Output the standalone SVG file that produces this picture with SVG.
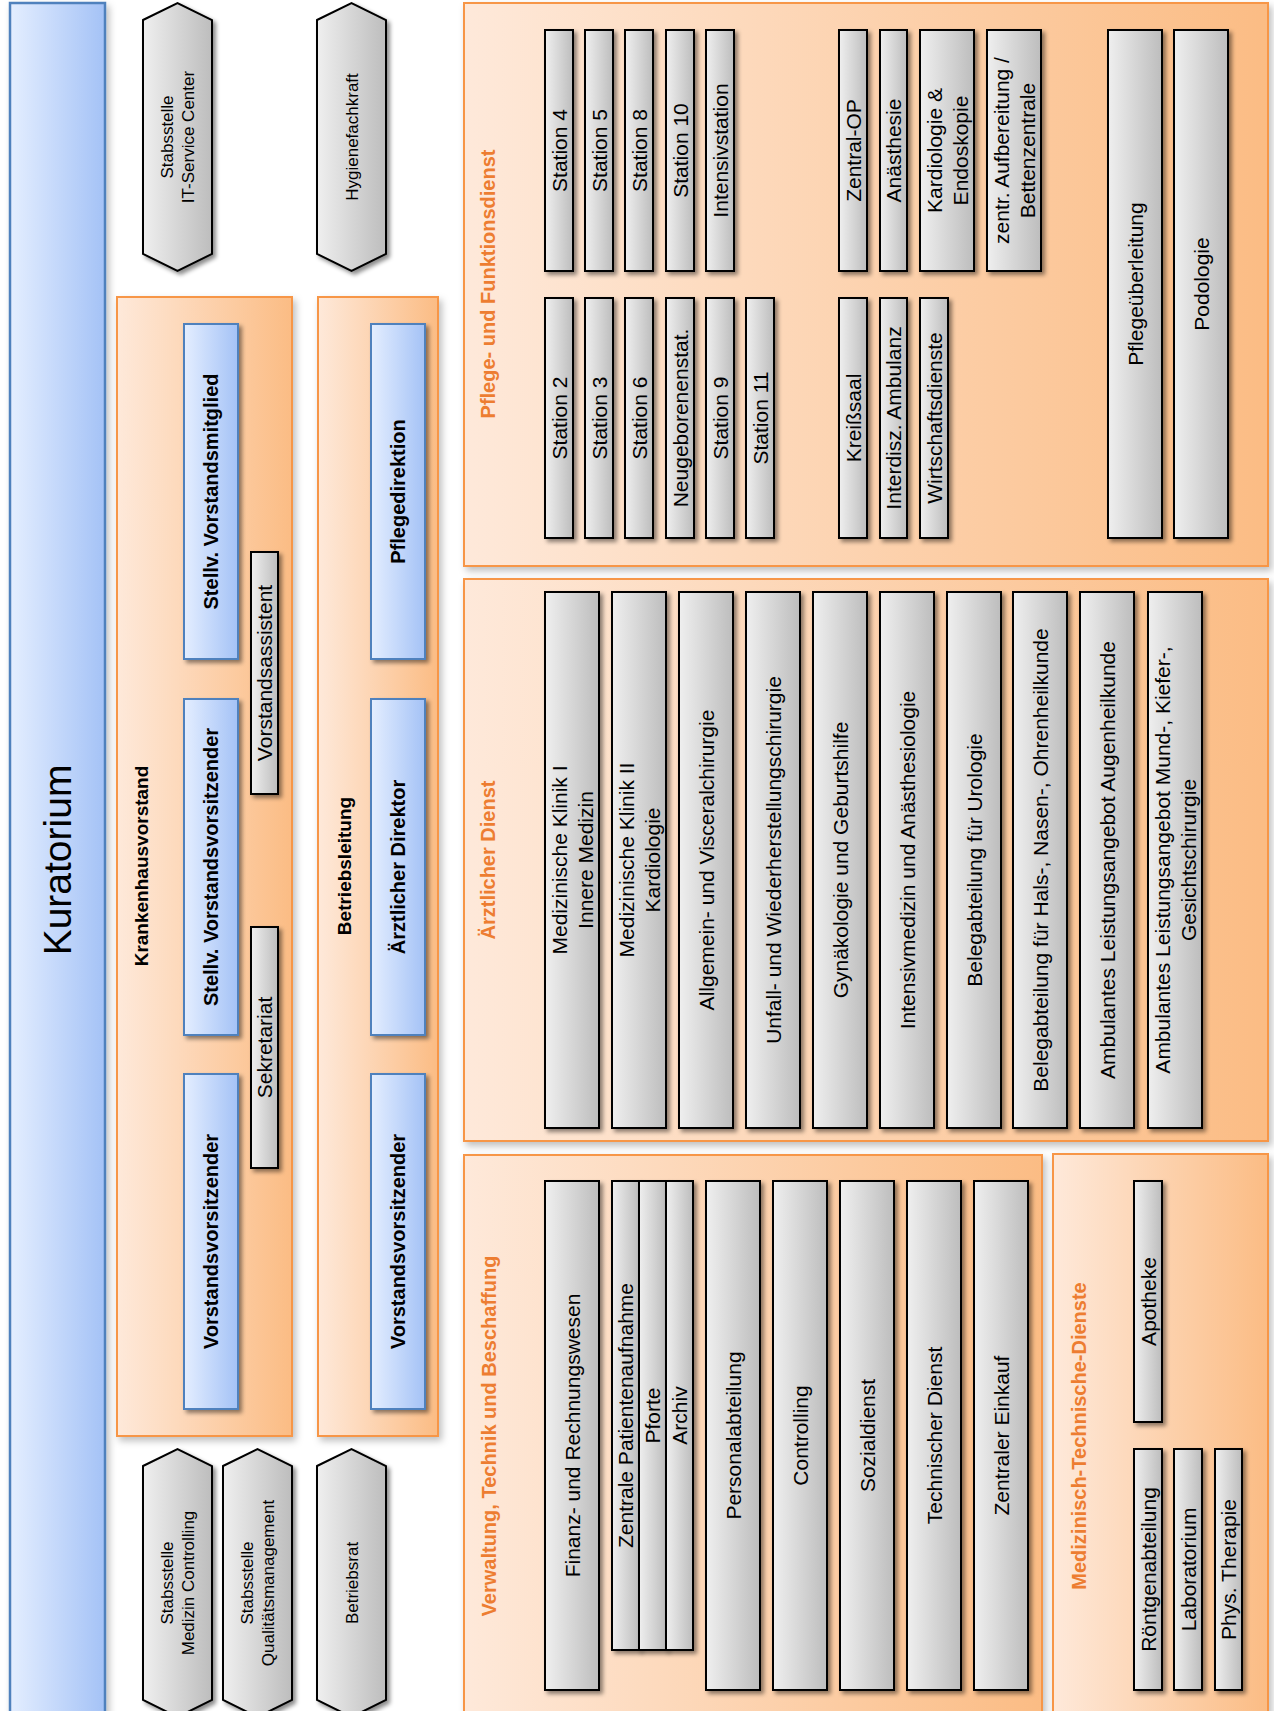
<svg xmlns="http://www.w3.org/2000/svg" width="1274" height="1711" viewBox="0 0 1274 1711">
<defs>
<linearGradient id="gGray" x1="0" y1="0" x2="1" y2="0"><stop offset="0" stop-color="#efefef"/><stop offset="1" stop-color="#bdbdbd"/></linearGradient>
<linearGradient id="gBlue" x1="0" y1="0" x2="1" y2="0"><stop offset="0" stop-color="#e4eeff"/><stop offset="1" stop-color="#a4c2f6"/></linearGradient>
<linearGradient id="gOrange" x1="0" y1="0" x2="1" y2="0"><stop offset="0" stop-color="#fee9da"/><stop offset="1" stop-color="#fbbc84"/></linearGradient>
<filter id="sh" filterUnits="userSpaceOnUse" x="0" y="0" width="1274" height="1711"><feDropShadow dx="3" dy="3" stdDeviation="2.2" flood-color="#000" flood-opacity="0.45"/></filter>
<filter id="shO" filterUnits="userSpaceOnUse" x="0" y="0" width="1274" height="1711"><feDropShadow dx="3" dy="4" stdDeviation="3.5" flood-color="#000" flood-opacity="0.25"/></filter>
<style>
text{font-family:"Liberation Sans",Arial,sans-serif;text-anchor:middle;fill:#000}
.lbl{font-size:21px}
.hx{font-size:17px}
.bl{font-size:20px;font-weight:bold}
.hd{font-size:19px;font-weight:bold}
.sec{font-size:20px;font-weight:bold;fill:#ed7d31}
.kur{font-size:39px}
.g{fill:url(#gGray);stroke:#000;stroke-width:2;filter:url(#sh)}
.b{fill:url(#gBlue);stroke:#4f81bd;stroke-width:2;filter:url(#sh)}
.o{fill:url(#gOrange);stroke:#f79646;stroke-width:2;filter:url(#shO)}
</style>
</defs>
<rect width="1274" height="1711" fill="#fff"/>

<g id="kuratorium">
<rect x="10" y="3" width="95" height="1720" fill="url(#gBlue)" stroke="#4f81bd" stroke-width="2.5" filter="url(#shO)"/>
<text class="kur" transform="translate(71,860) rotate(-90)">Kuratorium</text>
</g>

<g id="stab-it"><polygon class="g" points="143,20 177.5,3 212,20 212,254 177.5,271 143,254"/>
<text class="hx" transform="translate(173,137) rotate(-90)"><tspan x="0" y="0">Stabsstelle</tspan><tspan x="0" y="21">IT-Service Center</tspan></text></g>
<g id="hygiene"><polygon class="g" points="317,20 351.5,3 386,20 386,254 351.5,271 317,254"/>
<text class="hx" transform="translate(357.5,137) rotate(-90)">Hygienefachkraft</text></g>
<g id="stab-medcon"><polygon class="g" points="143,1466 177.5,1449 212,1466 212,1700 177.5,1717 143,1700"/>
<text class="hx" transform="translate(173,1583) rotate(-90)"><tspan x="0" y="0">Stabsstelle</tspan><tspan x="0" y="21">Medizin Controlling</tspan></text></g>
<g id="stab-qm"><polygon class="g" points="223,1466 257.5,1449 292,1466 292,1700 257.5,1717 223,1700"/>
<text class="hx" transform="translate(253,1583) rotate(-90)"><tspan x="0" y="0">Stabsstelle</tspan><tspan x="0" y="21">Qualitätsmanagement</tspan></text></g>
<g id="betriebsrat"><polygon class="g" points="317,1466 351.5,1449 386,1466 386,1700 351.5,1717 317,1700"/>
<text class="hx" transform="translate(357.5,1583) rotate(-90)">Betriebsrat</text></g>

<g id="krankenhausvorstand">
<rect class="o" x="117" y="297" width="175" height="1139"/>
<text class="hd" transform="translate(148,866) rotate(-90)">Krankenhausvorstand</text>
</g>
<g id="kv-stellv-mitglied"><rect class="b" x="184" y="324" width="54" height="335"/><text class="bl" transform="translate(218,491.5) rotate(-90)">Stellv. Vorstandsmitglied</text></g>
<g id="kv-stellv-vorsitz"><rect class="b" x="184" y="699" width="54" height="336"/><text class="bl" transform="translate(218,867) rotate(-90)">Stellv. Vorstandsvorsitzender</text></g>
<g id="kv-vorsitz"><rect class="b" x="184" y="1074" width="54" height="335"/><text class="bl" transform="translate(218,1241.5) rotate(-90)">Vorstandsvorsitzender</text></g>
<g id="vorstandsassistent"><rect class="g" x="251" y="552" width="27" height="242"/><text class="lbl" transform="translate(272,673) rotate(-90)">Vorstandsassistent</text></g>
<g id="sekretariat"><rect class="g" x="251" y="927" width="27" height="241"/><text class="lbl" transform="translate(272,1047.5) rotate(-90)">Sekretariat</text></g>

<g id="betriebsleitung">
<rect class="o" x="318" y="297" width="120" height="1139"/>
<text class="hd" transform="translate(351,866) rotate(-90)">Betriebsleitung</text>
</g>
<g id="bl-pflegedirektion"><rect class="b" x="371" y="324" width="54" height="335"/><text class="bl" transform="translate(405,491.5) rotate(-90)">Pflegedirektion</text></g>
<g id="bl-aerztl-direktor"><rect class="b" x="371" y="699" width="54" height="336"/><text class="bl" transform="translate(405,867) rotate(-90)">Ärztlicher Direktor</text></g>
<g id="bl-vorsitz"><rect class="b" x="371" y="1074" width="54" height="335"/><text class="bl" transform="translate(405,1241.5) rotate(-90)">Vorstandsvorsitzender</text></g>

<g id="pflege">
<rect class="o" x="464" y="3" width="804" height="563"/>
<text class="sec" transform="translate(495,284) rotate(-90)">Pflege- und Funktionsdienst</text>
</g>
<g id="station4"><rect class="g" x="545" y="30" width="28" height="241"/><text class="lbl" transform="translate(566.5,150.5) rotate(-90)">Station 4</text></g>
<g id="station5"><rect class="g" x="585" y="30" width="28" height="241"/><text class="lbl" transform="translate(606.5,150.5) rotate(-90)">Station 5</text></g>
<g id="station8"><rect class="g" x="625" y="30" width="28" height="241"/><text class="lbl" transform="translate(646.5,150.5) rotate(-90)">Station 8</text></g>
<g id="station10"><rect class="g" x="666" y="30" width="28" height="241"/><text class="lbl" transform="translate(687.5,150.5) rotate(-90)">Station 10</text></g>
<g id="intensivstation"><rect class="g" x="706" y="30" width="28" height="241"/><text class="lbl" transform="translate(727.5,150.5) rotate(-90)">Intensivstation</text></g>
<g id="zentral-op"><rect class="g" x="839" y="30" width="28" height="241"/><text class="lbl" transform="translate(860.5,150.5) rotate(-90)">Zentral-OP</text></g>
<g id="anaesthesie"><rect class="g" x="880" y="30" width="27" height="241"/><text class="lbl" transform="translate(901,150.5) rotate(-90)">Anästhesie</text></g>
<g id="kardio-endo"><rect class="g" x="920" y="30" width="54" height="241"/><text class="lbl" transform="translate(941.5,150.5) rotate(-90)"><tspan x="0" y="0">Kardiologie &amp;</tspan><tspan x="0" y="26">Endoskopie</tspan></text></g>
<g id="aufbereitung"><rect class="g" x="987" y="30" width="54" height="241"/><text class="lbl" transform="translate(1008.5,150.5) rotate(-90)"><tspan x="0" y="0">zentr. Aufbereitung /</tspan><tspan x="0" y="26">Bettenzentrale</tspan></text></g>
<g id="station2"><rect class="g" x="545" y="298" width="28" height="240"/><text class="lbl" transform="translate(566.5,418) rotate(-90)">Station 2</text></g>
<g id="station3"><rect class="g" x="585" y="298" width="28" height="240"/><text class="lbl" transform="translate(606.5,418) rotate(-90)">Station 3</text></g>
<g id="station6"><rect class="g" x="625" y="298" width="28" height="240"/><text class="lbl" transform="translate(646.5,418) rotate(-90)">Station 6</text></g>
<g id="neugeborenenstat"><rect class="g" x="666" y="298" width="28" height="240"/><text class="lbl" transform="translate(687.5,418) rotate(-90)">Neugeborenenstat.</text></g>
<g id="station9"><rect class="g" x="706" y="298" width="28" height="240"/><text class="lbl" transform="translate(727.5,418) rotate(-90)">Station 9</text></g>
<g id="station11"><rect class="g" x="746" y="298" width="28" height="240"/><text class="lbl" transform="translate(767.5,418) rotate(-90)">Station 11</text></g>
<g id="kreisssaal"><rect class="g" x="839" y="298" width="28" height="240"/><text class="lbl" transform="translate(860.5,418) rotate(-90)">Kreißsaal</text></g>
<g id="interdisz-ambulanz"><rect class="g" x="880" y="298" width="27" height="240"/><text class="lbl" transform="translate(901,418) rotate(-90)">Interdisz. Ambulanz</text></g>
<g id="wirtschaftsdienste"><rect class="g" x="920" y="298" width="28" height="240"/><text class="lbl" transform="translate(941.5,418) rotate(-90)">Wirtschaftsdienste</text></g>
<g id="pflegeueberleitung"><rect class="g" x="1108" y="30" width="54" height="508"/><text class="lbl" transform="translate(1142.5,284) rotate(-90)">Pflegeüberleitung</text></g>
<g id="podologie"><rect class="g" x="1174" y="30" width="54" height="508"/><text class="lbl" transform="translate(1208.5,284) rotate(-90)">Podologie</text></g>

<g id="aerztlicher-dienst">
<rect class="o" x="464" y="579" width="804" height="562"/>
<text class="sec" transform="translate(495,860) rotate(-90)">Ärztlicher Dienst</text>
</g>
<g id="med-klinik-1"><rect class="g" x="545" y="592" width="54" height="536"/><text class="lbl" transform="translate(566.5,860) rotate(-90)"><tspan x="0" y="0">Medizinische Klinik I</tspan><tspan x="0" y="26">Innere Medizin</tspan></text></g>
<g id="med-klinik-2"><rect class="g" x="612" y="592" width="54" height="536"/><text class="lbl" transform="translate(633.5,860) rotate(-90)"><tspan x="0" y="0">Medizinische Klinik II</tspan><tspan x="0" y="26">Kardiologie</tspan></text></g>
<g id="allgemeinchirurgie"><rect class="g" x="679" y="592" width="54" height="536"/><text class="lbl" transform="translate(713.5,860) rotate(-90)">Allgemein- und Visceralchirurgie</text></g>
<g id="unfallchirurgie"><rect class="g" x="746" y="592" width="54" height="536"/><text class="lbl" transform="translate(780.5,860) rotate(-90)">Unfall- und Wiederherstellungschirurgie</text></g>
<g id="gynaekologie"><rect class="g" x="813" y="592" width="54" height="536"/><text class="lbl" transform="translate(847.5,860) rotate(-90)">Gynäkologie und Geburtshilfe</text></g>
<g id="intensivmedizin"><rect class="g" x="880" y="592" width="54" height="536"/><text class="lbl" transform="translate(914.5,860) rotate(-90)">Intensivmedizin und Anästhesiologie</text></g>
<g id="urologie"><rect class="g" x="947" y="592" width="54" height="536"/><text class="lbl" transform="translate(981.5,860) rotate(-90)">Belegabteilung für Urologie</text></g>
<g id="hno"><rect class="g" x="1013" y="592" width="54" height="536"/><text class="lbl" transform="translate(1047.5,860) rotate(-90)">Belegabteilung für Hals-, Nasen-, Ohrenheilkunde</text></g>
<g id="augenheilkunde"><rect class="g" x="1080" y="592" width="54" height="536"/><text class="lbl" transform="translate(1114.5,860) rotate(-90)">Ambulantes Leistungsangebot Augenheilkunde</text></g>
<g id="mkg"><rect class="g" x="1148" y="592" width="54" height="536"/><text class="lbl" transform="translate(1169.5,860) rotate(-90)"><tspan x="0" y="0">Ambulantes Leistungsangebot Mund-, Kiefer-,</tspan><tspan x="0" y="26">Gesichtschirurgie</tspan></text></g>

<g id="verwaltung">
<rect class="o" x="464" y="1155" width="578" height="570"/>
<text class="sec" transform="translate(496,1436) rotate(-90)">Verwaltung, Technik und Beschaffung</text>
</g>
<g id="finanz"><rect class="g" x="545" y="1181" width="54" height="509"/><text class="lbl" transform="translate(579.5,1435.5) rotate(-90)">Finanz- und Rechnungswesen</text></g>
<g id="patientenaufnahme"><rect class="g" x="612" y="1181" width="27" height="469"/><text class="lbl" transform="translate(633,1415.5) rotate(-90)">Zentrale Patientenaufnahme</text></g>
<g id="pforte"><rect class="g" x="639" y="1181" width="27" height="469"/><text class="lbl" transform="translate(660,1415.5) rotate(-90)">Pforte</text></g>
<g id="archiv"><rect class="g" x="666" y="1181" width="27" height="469"/><text class="lbl" transform="translate(687,1415.5) rotate(-90)">Archiv</text></g>
<g id="personal"><rect class="g" x="706" y="1181" width="54" height="509"/><text class="lbl" transform="translate(740.5,1435.5) rotate(-90)">Personalabteilung</text></g>
<g id="controlling"><rect class="g" x="773" y="1181" width="54" height="509"/><text class="lbl" transform="translate(807.5,1435.5) rotate(-90)">Controlling</text></g>
<g id="sozialdienst"><rect class="g" x="840" y="1181" width="54" height="509"/><text class="lbl" transform="translate(874.5,1435.5) rotate(-90)">Sozialdienst</text></g>
<g id="technischer-dienst"><rect class="g" x="907" y="1181" width="54" height="509"/><text class="lbl" transform="translate(941.5,1435.5) rotate(-90)">Technischer Dienst</text></g>
<g id="einkauf"><rect class="g" x="974" y="1181" width="54" height="509"/><text class="lbl" transform="translate(1008.5,1435.5) rotate(-90)">Zentraler Einkauf</text></g>

<g id="mtd">
<rect class="o" x="1053" y="1154" width="215" height="571"/>
<text class="sec" transform="translate(1086,1436) rotate(-90)">Medizinisch-Technische-Dienste</text>
</g>
<g id="apotheke"><rect class="g" x="1134" y="1181" width="28" height="241"/><text class="lbl" transform="translate(1155.5,1301.5) rotate(-90)">Apotheke</text></g>
<g id="roentgen"><rect class="g" x="1134" y="1449" width="28" height="241"/><text class="lbl" transform="translate(1155.5,1569.5) rotate(-90)">Röntgenabteilung</text></g>
<g id="labor"><rect class="g" x="1174" y="1449" width="28" height="241"/><text class="lbl" transform="translate(1195.5,1569.5) rotate(-90)">Laboratorium</text></g>
<g id="physio"><rect class="g" x="1215" y="1449" width="27" height="241"/><text class="lbl" transform="translate(1236,1569.5) rotate(-90)">Phys. Therapie</text></g>

<g id="connectors"/>
</svg>
